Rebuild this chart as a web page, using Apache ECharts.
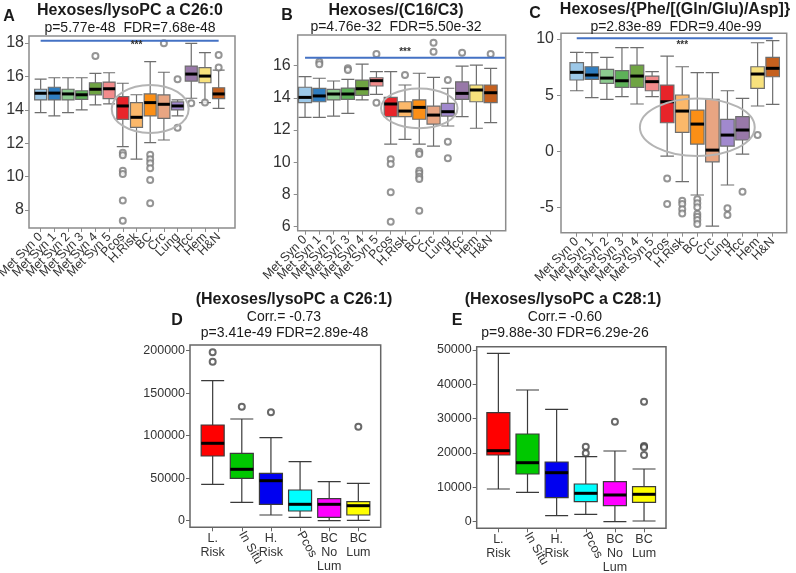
<!DOCTYPE html>
<html>
<head>
<meta charset="utf-8">
<script src="https://cdn.jsdelivr.net/npm/echarts@6.0.0/dist/echarts.min.js"></script>
<style>
html,body{margin:0;padding:0;background:#ffffff;}
#chart{width:796px;height:573px;}
</style>
</head>
<body>
<div id="chart"></div>
<script>
// ---------------- data ----------------
const topCategories = ['Met Syn 0','Met Syn 1','Met Syn 2','Met Syn 3','Met Syn 4','Met Syn 5','Pcos','H.Risk','BC','Crc','Lung','Hcc','Hem','H&N'];
const topColors = ['#9CC8E8','#2F7DC0','#8CCB8F','#5DB158','#6FA443','#F28B8B','#E8242A','#FBB86A','#FB8F16','#E8A582','#A189CE','#9878A8','#F7E17C','#C5601E'];

// [min, Q1, median, Q3, max]
const boxesA = [
  [13.83,14.59,14.99,15.23,15.84],[13.63,14.59,15.00,15.35,15.92],[13.83,14.59,14.95,15.23,15.92],
  [13.99,14.63,14.90,15.14,15.92],[14.29,14.89,15.23,15.62,16.18],[14.35,14.67,15.26,15.66,16.22],
  [11.80,13.43,14.23,14.79,15.59],[11.04,12.95,13.55,14.43,14.90],[12.03,13.63,14.43,14.95,16.88],
  [12.19,13.49,14.33,14.89,16.25],[13.63,13.99,14.23,14.47,14.60],[14.69,15.72,16.14,16.62,17.98],
  [14.43,15.62,16.02,16.52,17.42],[14.09,14.67,14.95,15.32,16.38]
];
const outliersA = [[4,17.22],[6,11.43],[6,11.28],[6,10.35],[6,10.16],[6,8.56],[6,7.36],[8,11.30],[8,11.04],[8,10.80],[8,10.50],[8,9.80],[8,8.40],[9,17.98],[10,15.83],[10,12.93],[11,14.39],[12,14.43],[13,17.28],[13,16.54]];

const boxesB = [
  [12.79,13.70,14.03,14.66,15.32],[12.79,13.76,14.12,14.59,15.22],[12.87,13.87,14.24,14.53,15.05],
  [13.04,13.91,14.24,14.61,15.15],[13.87,14.16,14.57,15.11,16.10],[14.22,14.74,15.07,15.25,15.63],
  [11.13,12.83,13.62,14.03,15.63],[11.42,12.83,13.18,13.76,14.80],[11.13,12.67,13.41,13.87,15.53],
  [11.00,12.37,12.93,13.49,15.28],[12.25,12.87,13.14,13.66,14.60],[12.83,13.91,14.28,15.00,15.98],
  [12.11,13.76,14.49,14.80,16.04],[12.46,13.70,14.32,14.80,15.84]
];
const outliersB = [[1,16.25],[1,16.09],[3,15.84],[3,15.73],[5,16.73],[5,13.70],[6,10.18],[6,9.89],[6,8.13],[6,6.30],[7,15.42],[8,10.65],[8,10.51],[8,9.47],[8,9.31],[8,9.10],[8,8.95],[8,6.98],[9,17.43],[9,16.87],[10,15.11],[10,11.27],[10,10.24],[11,16.81],[13,16.73]];

const boxesC = [
  [5.39,6.35,7.03,7.89,8.81],[4.77,6.41,6.79,7.53,8.78],[4.63,6.05,6.52,7.30,8.37],
  [4.86,5.69,6.28,7.18,9.23],[4.21,5.69,6.70,7.68,9.23],[4.86,5.39,6.20,6.70,7.09],
  [-0.43,2.54,4.41,5.90,8.48],[-2.70,1.68,3.58,5.01,7.53],[-3.90,0.64,2.42,3.67,7.00],
  [-6.67,-0.94,0.10,4.63,7.00],[-3.01,0.46,1.44,2.84,5.39],[-0.25,1.00,1.89,3.08,4.71],
  [4.03,5.61,6.88,7.53,9.67],[4.18,6.64,7.39,8.37,9.85]
];
const outliersC = [[6,-2.42],[6,-4.71],[7,-4.41],[7,-4.71],[7,-5.18],[7,-5.54],[8,-4.29],[8,-4.64],[8,-5.00],[8,-5.60],[8,-5.84],[8,-6.13],[8,-6.49],[10,-5.09],[10,-5.69],[11,-3.60],[12,1.44]];

const bottomCategories = ['L.\nRisk','In Situ','H.\nRisk','Pcos','BC\nNo\nLum','BC\nLum'];
const bottomRotatedIdx = [1,3];
const bottomColors = ['#FF0000','#00C800','#0000F0','#00FFFF','#FF00FF','#FFFF00'];

const boxesD = [
  [42820,76120,91060,112600,164700],[21650,49880,60470,79290,119650],[6700,19290,47060,55760,97650],
  [4000,11410,19290,36120,69410],[0,4000,19290,25880,45880],[500,6700,17650,22350,44000]
];
const outliersD = [[0,198100],[0,187100],[1,134100],[2,127530],[5,110590]];

const boxesE = [
  [9520,19420,20680,31740,49040],[8560,13890,17180,25540,38350],[1750,6990,14270,17380,32730],
  [2150,5820,8270,10980,18930],[0,4660,7780,11650,20590],[200,5650,7980,10190,15350]
];
const outliersE = [[3,21840],[3,19920],[4,29120],[5,34940],[5,22040],[5,21660],[5,19420]];

const yTicksA = [8,10,12,14,16,18];
const yTicksB = [6,8,10,12,14,16];
const yTicksC = [-5,0,5,10];
const yTicksD = [0,50000,100000,150000,200000];
const yTicksE = [0,10000,20000,30000,40000,50000];

// ---------------- layout / builder ----------------
const FONT = "'Liberation Sans', Arial, Helvetica, sans-serif";
const grids = [], xAxes = [], yAxes = [], series = [];

function medianSeries(ai, boxes, w, lw) {
  return {
    type: 'custom', xAxisIndex: ai, yAxisIndex: ai, silent: true, z: 5, clip: false,
    data: boxes.map((b, i) => [i, b[2]]),
    renderItem: function (params, api) {
      const p = api.coord([api.value(0), api.value(1)]);
      return { type: 'line', shape: { x1: p[0] - w / 2, y1: p[1], x2: p[0] + w / 2, y2: p[1] },
               style: { stroke: '#000', lineWidth: lw } };
    }
  };
}

function annotationSeries(ai, ann) {
  return {
    type: 'custom', xAxisIndex: ai, yAxisIndex: ai, silent: true, z: 6, clip: false,
    data: [[0, ann.line[2]]],
    renderItem: function (params, api) {
      const band = api.size([1, 0])[0];
      const ec = api.coord([ann.ellipse[0], ann.ellipse[1]]);
      const ryPx = Math.abs(api.coord([ann.ellipse[0], ann.ellipse[1] + ann.ellipse[3]])[1] - ec[1]);
      const l1 = api.coord([ann.line[0], ann.line[2]]);
      const l2 = api.coord([ann.line[1], ann.line[2]]);
      const st = api.coord([ann.stars[0], ann.stars[1]]);
      return { type: 'group', children: [
        { type: 'ellipse', shape: { cx: ec[0], cy: ec[1], rx: band * ann.ellipse[2], ry: ryPx },
          style: { fill: 'none', stroke: '#b4b4b4', lineWidth: 2 } },
        { type: 'line', shape: { x1: l1[0], y1: l1[1], x2: l2[0], y2: l2[1] },
          style: { stroke: '#4472C4', lineWidth: 2 } },
        { type: 'text', x: st[0], y: st[1],
          style: { text: '***', fill: '#333', font: 'bold 10px ' + FONT, textAlign: 'center', textVerticalAlign: 'middle' } }
      ]};
    }
  };
}

function addPanel(c) {
  // frame grid with the y axis
  const fi = grids.length;
  grids.push({ left: c.frame[0], top: c.frame[1], width: c.frame[2], height: c.frame[3], show: true,
    borderColor: c.frameColor, borderWidth: 1.5, backgroundColor: 'transparent', containLabel: false, outerBoundsMode: 'none' });
  xAxes.push({ gridIndex: fi, type: 'value', min: 0, max: 1, show: false });
  yAxes.push({ gridIndex: fi, type: 'value', min: c.yMin, max: c.yMax,
    axisLine: { show: false, onZero: false }, splitLine: { show: false },
    axisTick: { show: true, length: 4, customValues: c.yTicks, lineStyle: { color: c.frameColor, width: 1 } },
    axisLabel: { customValues: c.yTicks, margin: c.yMargin, color: '#333', fontSize: c.yFont, fontFamily: FONT,
                 formatter: function (v) { return String(v); } } });
  // data grid with the category axis
  const di = grids.length;
  grids.push({ left: c.data[0], top: c.frame[1], width: c.data[1], height: c.frame[3], show: false, containLabel: false, outerBoundsMode: 'none' });
  xAxes.push({ gridIndex: di, type: 'category', data: c.categories, boundaryGap: true,
    axisLine: { show: false, onZero: false }, splitLine: { show: false },
    axisTick: { show: true, alignWithLabel: true, interval: 0, length: 4, lineStyle: { color: c.frameColor, width: 1 } },
    axisLabel: { interval: 0, rotate: c.rotate, margin: c.xMargin, color: '#333', fontSize: c.xFont, fontFamily: FONT,
                 lineHeight: c.xLineHeight,
                 formatter: function (v, i) { return (c.rotIdx && c.rotIdx.indexOf(i) >= 0) ? '' : v; } } });
  yAxes.push({ gridIndex: di, type: 'value', min: c.yMin, max: c.yMax, show: false });
  // optional extra grid for rotated labels
  if (c.rotIdx) {
    const ri = grids.length;
    grids.push({ left: c.data[0], top: c.frame[1], width: c.data[1], height: c.frame[3], show: false, containLabel: false, outerBoundsMode: 'none' });
    xAxes.push({ gridIndex: ri, type: 'category', data: c.categories, boundaryGap: true,
      axisLine: { show: false, onZero: false }, axisTick: { show: false }, splitLine: { show: false },
      axisLabel: { interval: 0, rotate: c.rotRotate, margin: c.rotMargin, color: '#333', fontSize: c.xFont, fontFamily: FONT,
                   formatter: function (v, i) { return c.rotIdx.indexOf(i) >= 0 ? v : ''; } } });
    yAxes.push({ gridIndex: ri, type: 'value', min: c.yMin, max: c.yMax, show: false });
  }
  series.push({
    type: 'boxplot', xAxisIndex: di, yAxisIndex: di, silent: true, z: 3,
    boxWidth: [c.boxW, c.boxW],
    itemStyle: { borderColor: c.lineColor, borderWidth: c.lineW },
    data: c.boxes.map((b, i) => ({ value: b, itemStyle: { color: c.colors[i] } }))
  });
  series.push(medianSeries(di, c.boxes, c.boxW, c.medW));
  series.push({
    type: 'scatter', xAxisIndex: di, yAxisIndex: di, silent: true, z: 4,
    symbol: 'emptyCircle', symbolSize: c.outSize,
    itemStyle: { color: c.outColor, borderWidth: 1.2 },
    data: c.outliers
  });
  if (c.ann) series.push(annotationSeries(di, c.ann));
}

const topCommon = { categories: topCategories, colors: topColors, rotate: 45, xFont: 12.5, xMargin: 7,
  yFont: 16, frameColor: '#8c8c8c', lineColor: '#6e6e6e', lineW: 1.2, medW: 3, outSize: 6, outColor: '#7a7a7a' };

addPanel(Object.assign({}, topCommon, { frame: [29, 36, 206, 192], data: [33.8, 191.7], yMin: 6.92, yMax: 18.42,
  yTicks: yTicksA, yMargin: 5, boxes: boxesA, outliers: outliersA, boxW: 12,
  ann: { ellipse: [7.87, 14.05, 2.81, 1.44], line: [-0.19, 13.14, 18.14], stars: [6.96, 17.88] } }));
addPanel(Object.assign({}, topCommon, { frame: [297.7, 35, 208, 195.7], data: [297.9, 199.9], yMin: 5.74, yMax: 17.91,
  yTicks: yTicksB, yMargin: 7, boxes: boxesB, outliers: outliersB, boxW: 13,
  ann: { ellipse: [7.93, 13.35, 2.68, 1.24], line: [-0.35, 13.6, 16.5], stars: [7.21, 16.81] } }));
addPanel(Object.assign({}, topCommon, { frame: [561, 33.3, 225.7, 199.4], data: [569.2, 211], yMin: -7.26, yMax: 10.51,
  yTicks: yTicksC, yMargin: 7, boxes: boxesC, outliers: outliersC, boxW: 13.5,
  ann: { ellipse: [8.34, 2.14, 3.81, 2.57], line: [-0.25, 13.48, 10.06], stars: [7.11, 9.47] } }));

const bottomCommon = { categories: bottomCategories, colors: bottomColors, rotate: 0, rotIdx: bottomRotatedIdx, rotRotate: -60,
  xFont: 12.5, xMargin: 4, rotMargin: 5, xLineHeight: 14, yFont: 12.5, yMargin: 5, frameColor: '#666666', lineColor: '#3a3a3a',
  lineW: 1.2, medW: 3, outSize: 6, outColor: '#444444', boxW: 23 };

addPanel(Object.assign({}, bottomCommon, { frame: [190, 345, 190.7, 182.3], data: [198.1, 174.8], yMin: -7760, yMax: 206700,
  yTicks: yTicksD, boxes: boxesD, outliers: outliersD }));
addPanel(Object.assign({}, bottomCommon, { frame: [476.7, 346.7, 189.3, 181.6], data: [483.8, 174.8], yMin: -1920, yMax: 50960,
  yTicks: yTicksE, boxes: boxesE, outliers: outliersE }));

// ---------------- titles ----------------
const titleTexts = [
  ['A', 9, 17, 'bold 16px'], ['Hexoses/lysoPC a C26:0', 130, 11, 'bold 16px'], ['p=5.77e-48  FDR=7.68e-48', 130, 28, '14px'],
  ['B', 287, 16, 'bold 16px'], ['Hexoses/(C16/C3)', 396, 11, 'bold 16px'], ['p=4.76e-32  FDR=5.50e-32', 396, 27, '14px'],
  ['C', 535, 14, 'bold 16px'], ['Hexoses/{Phe/[(Gln/Glu)/Asp]}', 675, 10, 'bold 16px'], ['p=2.83e-89  FDR=9.40e-99', 676, 27, '14px'],
  ['(Hexoses/lysoPC a C26:1)', 294, 300, 'bold 16px'], ['Corr.= -0.73', 284, 317, '14px'], ['p=3.41e-49 FDR=2.89e-48', 284.5, 333, '14px'],
  ['D', 177, 321, 'bold 16px'],
  ['(Hexoses/lysoPC a C28:1)', 563, 300, 'bold 16px'], ['Corr.= -0.60', 565, 317, '14px'], ['p=9.88e-30 FDR=6.29e-26', 565, 333, '14px'],
  ['E', 457, 321, 'bold 16px']
];
const graphics = titleTexts.map(t => ({
  type: 'text', x: t[1], y: t[2], silent: true,
  style: { text: t[0], font: t[3] + ' ' + FONT, fill: '#1a1a1a', textAlign: 'center', textVerticalAlign: 'middle' }
}));

const chart = echarts.init(document.getElementById('chart'), null, { renderer: 'canvas' });
chart.setOption({
  animation: false,
  backgroundColor: '#ffffff',
  grid: grids, xAxis: xAxes, yAxis: yAxes, series: series, graphic: graphics
});
</script>
</body>
</html>
